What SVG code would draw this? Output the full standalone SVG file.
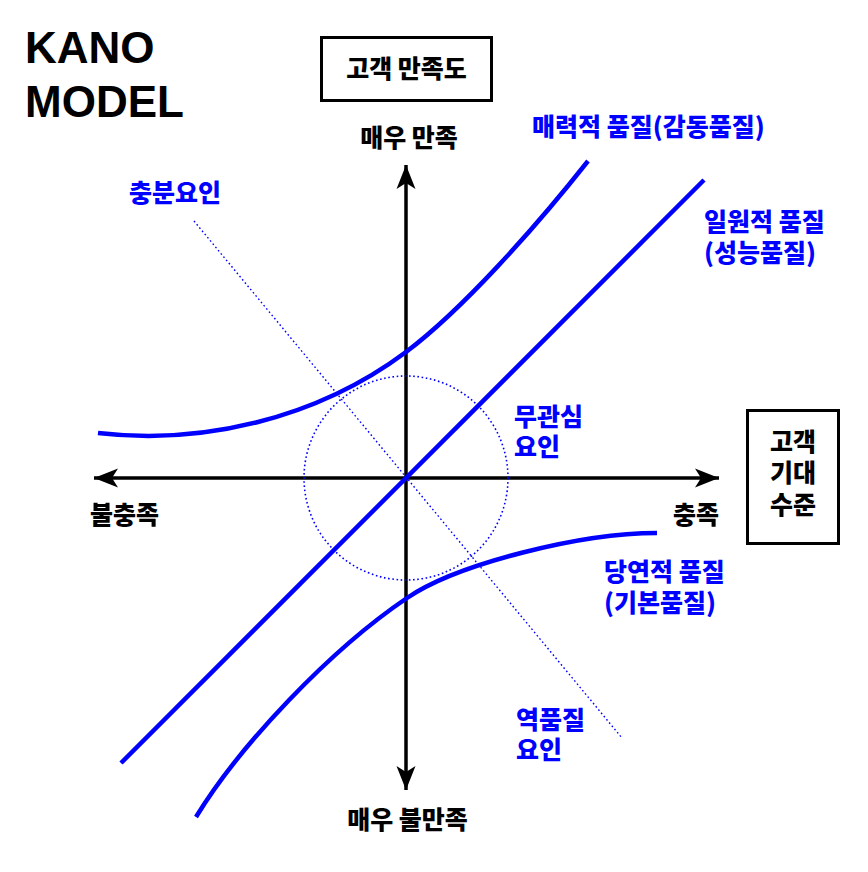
<svg xmlns="http://www.w3.org/2000/svg" width="868" height="872" viewBox="0 0 868 872">
<style>
.ko{font-family:"Noto Sans CJK KR","Noto Sans",sans-serif;font-weight:900;font-size:25px}
.blk{fill:#000}
.blu{fill:#0000ff}
.box{fill:#fff;stroke:#000;stroke-width:3}
.axis{stroke:#000;stroke-width:3.5;fill:none}
.curve{stroke:#0000ff;stroke-width:4.5;fill:none}
.dot{stroke:#0000ff;stroke-width:1.6;fill:none;stroke-dasharray:1.6 2.6}
</style>
<defs>
<marker id="ah" markerUnits="userSpaceOnUse" markerWidth="30" markerHeight="24" viewBox="-25 -12 27 24" refX="0" refY="0" orient="auto-start-reverse">
<path d="M0,0 L-24,-9.5 L-18,0 L-24,9.5 Z" fill="#000"/>
</marker>
</defs>
<rect width="868" height="872" fill="#fff"/>
<g id="title">
<text font-family="Liberation Sans, Arial, sans-serif" font-weight="700" font-size="44" class="blk"><tspan x="25" y="63">KANO</tspan><tspan x="25" y="117">MODEL</tspan></text>
</g>
<g id="connectors">
<line class="axis" x1="406" y1="790" x2="406" y2="165" marker-start="url(#ah)" marker-end="url(#ah)"/>
<line class="axis" x1="94" y1="478" x2="719" y2="478" marker-start="url(#ah)" marker-end="url(#ah)"/>
<circle class="dot" cx="406" cy="478" r="102"/>
<line class="dot" x1="194" y1="221" x2="622" y2="738" style="stroke-width:1.4"/>
<path class="curve" d="M98,433 C200,445 315,420 406,352 C462,310 535,228 588,161"/>
<line class="curve" x1="121" y1="763" x2="704" y2="180"/>
<path class="curve" d="M196,817 C240,745 330,650 407,598 C457,564 580,533 657,533"/>
</g>
<g id="satisfaction-box">
<rect class="box" x="321.5" y="37.5" width="170" height="63"/>
<text class="ko blk" x="406.5" y="78" text-anchor="middle">고객 만족도</text>
</g>
<g id="expectation-box">
<rect class="box" x="747.5" y="410.5" width="91" height="133"/>
<text class="ko blk" text-anchor="middle"><tspan x="793" y="451">고객</tspan><tspan x="793" y="482">기대</tspan><tspan x="793" y="514">수준</tspan></text>
</g>
<g id="axis-labels">
<text class="ko blk" x="409" y="147" text-anchor="middle">매우 만족</text>
<text class="ko blk" x="407.5" y="829" text-anchor="middle">매우 불만족</text>
<text class="ko blk" x="90" y="524">불충족</text>
<text class="ko blk" x="673" y="524">충족</text>
</g>
<g id="label-attractive">
<text class="ko blu" x="532" y="136">매력적 품질(감동품질)</text>
</g>
<g id="label-one-dimensional">
<text class="ko blu"><tspan x="704" y="231">일원적 품질</tspan><tspan x="704" y="262">(성능품질)</tspan></text>
</g>
<g id="label-must-be">
<text class="ko blu"><tspan x="604" y="581">당연적 품질</tspan><tspan x="604" y="612">(기본품질)</tspan></text>
</g>
<g id="label-indifferent">
<text class="ko blu"><tspan x="514" y="426">무관심</tspan><tspan x="514" y="456">요인</tspan></text>
</g>
<g id="label-reverse">
<text class="ko blu"><tspan x="516" y="729">역품질</tspan><tspan x="516" y="759">요인</tspan></text>
</g>
<g id="label-sufficient">
<text class="ko blu" x="129" y="202">충분요인</text>
</g>
</svg>
